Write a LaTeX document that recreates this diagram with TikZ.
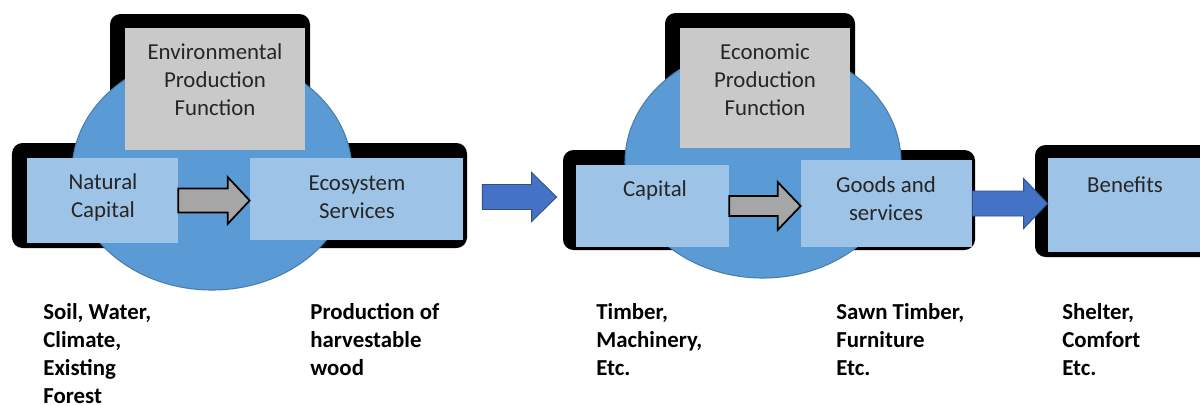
\documentclass[tikz,border=0pt]{standalone}
\usepackage{fontspec}
\setmainfont{Carlito}
\usetikzlibrary{calc}
\definecolor{ellblue}{HTML}{5B9BD5}
\definecolor{boxblue}{HTML}{9DC3E6}
\definecolor{boxgray}{HTML}{C9C9C9}
\definecolor{arrgray}{HTML}{A6A6A6}
\definecolor{arrblue}{HTML}{4472C4}
\definecolor{txtdark}{HTML}{262626}
\tikzset{
  shadowbox/.style={fill=black, rounded corners=6pt, inner sep=0},
  lightbox/.style={fill=boxblue, inner sep=0},
  graybox/.style={fill=boxgray, inner sep=0},
  blob/.style={ellipse, fill=ellblue, draw=ellblue!80!black, line width=0.6pt, inner sep=0},
  boxtext/.style={align=center, text=txtdark, font=\fontsize{13}{15.9}\selectfont},
  notetext/.style={align=left, anchor=north west, inner sep=0, font=\fontsize{13}{15.9}\selectfont\bfseries},
  grayarrow/.style={fill=arrgray, draw=black, line width=1pt, line join=miter},
  bluearrow/.style={fill=arrblue, draw=arrblue!70!black, line width=0.5pt, line join=miter}
}
% block arrow: style, from, tip, shaft half width, head half width, head length
\newcommand{\fatarrow}[6]{%
  \draw[#1] let \p1=(#2), \p2=(#3) in
    (\x1,\y1+#4) -- (\x2-#6,\y1+#4) -- (\x2-#6,\y1+#5) -- (\x2,\y1)
    -- (\x2-#6,\y1-#5) -- (\x2-#6,\y1-#4) -- (\x1,\y1-#4) -- cycle;}
\usetikzlibrary{shapes.geometric}
\begin{document}
\begin{tikzpicture}
\useasboundingbox (0,0) rectangle (24,-8.1);
\clip (0,0) rectangle (24,-8.1);
% black shadows
\node[shadowbox, minimum width=4cm, minimum height=2.92cm] (epfsh) at (4.2,-1.74) {};
\node[shadowbox, minimum width=9.1cm, minimum height=2.1cm] (lsh) at (4.79,-3.91) {};
\node[shadowbox, minimum width=3.8cm, minimum height=2.94cm] (ecpfsh) at (15.2,-1.73) {};
\node[shadowbox, minimum width=8.24cm, minimum height=2cm] (msh) at (15.38,-4) {};
\node[shadowbox, minimum width=3.6cm, minimum height=2.24cm] (bsh) at (22.5,-4.02) {};
% ellipses
\node[blob, minimum width=5.6cm, minimum height=4.72cm] (lblob) at (4.24,-3.44) {};
\node[blob, minimum width=5.52cm, minimum height=4.64cm] (mblob) at (15.26,-3.24) {};
% boxes
\node[graybox, minimum width=3.6cm, minimum height=2.44cm] (epf) at (4.3,-1.78) {};
\node[lightbox, minimum width=3.02cm, minimum height=1.7cm] (nc) at (2.05,-4.01) {};
\node[lightbox, minimum width=4.26cm, minimum height=1.64cm] (es) at (7.13,-3.98) {};
\node[graybox, minimum width=3.4cm, minimum height=2.4cm] (ecpf) at (15.3,-1.76) {};
\node[lightbox, minimum width=3.06cm, minimum height=1.64cm] (cap) at (13.05,-4.12) {};
\node[lightbox, minimum width=3.42cm, minimum height=1.74cm] (gs) at (17.73,-4.07) {};
\node[lightbox, minimum width=3.24cm, minimum height=1.88cm] (ben) at (22.58,-4.1) {};
% arrows
\fatarrow{grayarrow}{nc.east}{es.west}{0.24cm}{0.47cm}{0.44cm}
\fatarrow{grayarrow}{cap.east}{gs.west}{0.2cm}{0.48cm}{0.46cm}
\fatarrow{bluearrow}{$(lsh.east)+(0.3,-0.03)$}{$(msh.west)+(-0.12,0)$}{0.25cm}{0.49cm}{0.5cm}
\fatarrow{bluearrow}{gs.east}{ben.west}{0.25cm}{0.5cm}{0.48cm}
% box texts
\node[boxtext] (epft) at (4.3,-1.6) {Environmental\\Production\\Function};
\node[boxtext] (nct) at (2.06,-3.94) {Natural\\Capital};
\node[boxtext] (est) at (7.14,-3.94) {Ecosystem\\Services};
\node[boxtext] (ecpft) at (15.3,-1.6) {Economic\\Production\\Function};
\node[boxtext] (capt) at (13.1,-3.8) {Capital};
\node[boxtext] (gst) at (17.72,-3.97) {Goods and\\services};
\node[boxtext] (bent) at (22.5,-3.7) {Benefits};
% notes below
\node[notetext] (ncn) at (0.86,-6.06) {Soil, Water,\\Climate,\\Existing\\Forest};
\node[notetext] (esn) at (6.2,-6.06) {Production of\\harvestable\\wood};
\node[notetext] (capn) at (11.92,-6.06) {Timber,\\Machinery,\\Etc.};
\node[notetext] (gsn) at (16.72,-6.06) {Sawn Timber,\\Furniture\\Etc.};
\node[notetext] (benn) at (21.24,-6.06) {Shelter,\\Comfort\\Etc.};
\end{tikzpicture}
\end{document}
